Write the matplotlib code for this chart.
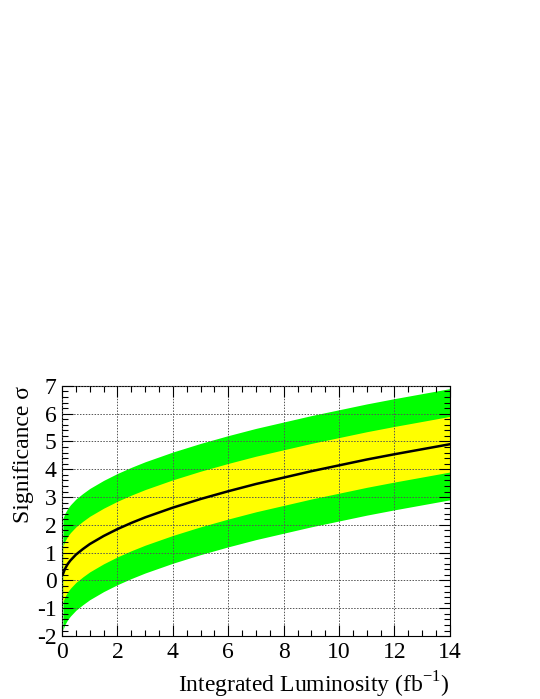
import numpy as np
import matplotlib
matplotlib.use("Agg")
import matplotlib.pyplot as plt
from matplotlib.ticker import MultipleLocator

plt.rcParams['font.family'] = ['Liberation Serif', 'DejaVu Serif']
plt.rcParams['mathtext.fontset'] = 'custom'
plt.rcParams['mathtext.rm'] = 'Liberation Serif'
plt.rcParams['axes.unicode_minus'] = False

# values
lumi = [0.03, 0.1, 0.2, 0.3, 0.5, 0.75, 1.0, 1.5, 2.0, 2.5, 3.0, 4.0, 5.0, 6.0,
        7.0, 8.0, 9.0, 10.0, 11.0, 12.0, 13.0, 14.0]
central = [0.23, 0.41, 0.59, 0.72, 0.93, 1.13, 1.31, 1.60, 1.85, 2.07, 2.27, 2.62,
           2.93, 3.21, 3.47, 3.70, 3.93, 4.14, 4.35, 4.54, 4.72, 4.90]
minus1 = [-0.77, -0.59, -0.41, -0.28, -0.07, 0.13, 0.31, 0.60, 0.85, 1.07, 1.27, 1.62,
          1.93, 2.21, 2.47, 2.70, 2.93, 3.14, 3.35, 3.54, 3.72, 3.90]
plus1 = [1.23, 1.41, 1.59, 1.72, 1.93, 2.13, 2.31, 2.60, 2.85, 3.07, 3.27, 3.62,
         3.93, 4.21, 4.47, 4.70, 4.93, 5.14, 5.35, 5.54, 5.72, 5.90]
minus2 = [-1.77, -1.59, -1.41, -1.28, -1.07, -0.87, -0.69, -0.40, -0.15, 0.07, 0.27, 0.62,
          0.93, 1.21, 1.47, 1.70, 1.93, 2.14, 2.35, 2.54, 2.72, 2.90]
plus2 = [2.23, 2.41, 2.59, 2.72, 2.93, 3.13, 3.31, 3.60, 3.85, 4.07, 4.27, 4.62,
         4.93, 5.21, 5.47, 5.70, 5.93, 6.14, 6.35, 6.54, 6.72, 6.90]

fig = plt.figure(figsize=(5.4, 6.99), dpi=100)
ax = fig.add_axes([0.115, 0.090, 0.718, 0.358])

ax.fill_between(lumi, minus2, plus2, color='#00ff00', lw=0, zorder=1)
ax.fill_between(lumi, minus1, plus1, color='#ffff00', lw=0, zorder=2)
ax.plot(lumi, central, color='black', lw=1.8, zorder=3)

ax.set_xlim(0, 14)
ax.set_ylim(-2, 7)
ax.xaxis.set_major_locator(MultipleLocator(2))
ax.xaxis.set_minor_locator(MultipleLocator(0.5))
ax.yaxis.set_major_locator(MultipleLocator(1))
ax.yaxis.set_minor_locator(MultipleLocator(0.2))
ax.tick_params(which='both', direction='in', top=True, right=True, labelsize=17, pad=4)
ax.tick_params(which='major', length=8, width=0.8)
ax.tick_params(which='minor', length=4, width=0.8)
ax.grid(True, which='major', color='#555555', linestyle=(0, (1.5, 1.5)), lw=0.7, zorder=4)
ax.set_axisbelow(False)

ax.set_xlabel('Integrated Luminosity (fb$^{\\mathregular{-1}}$)', fontsize=17, loc='right', labelpad=5)
ax.set_ylabel('Significance \u03c3', fontsize=17, loc='top', labelpad=2)

fig.savefig('out.png', dpi=100)
